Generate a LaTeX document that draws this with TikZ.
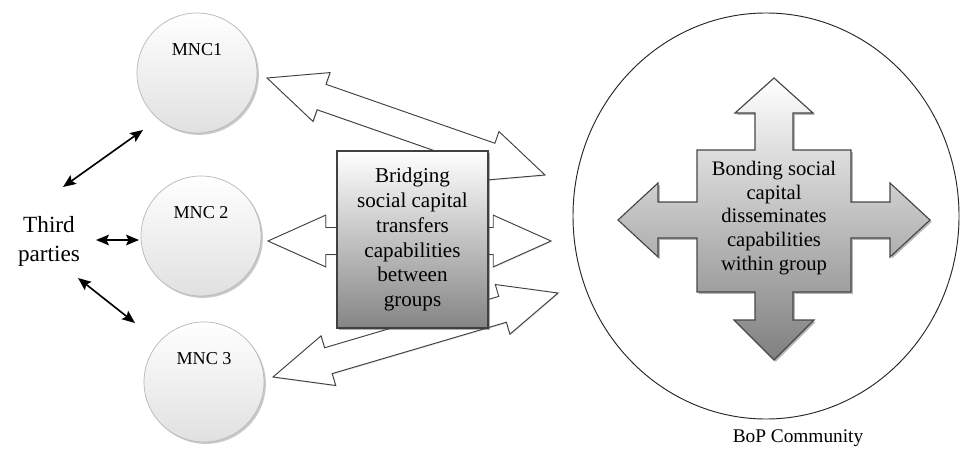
\documentclass[tikz,border=0pt]{standalone}
\usepackage{fontspec}
\setmainfont{Liberation Serif}
\newfontfamily\diagfont{Liberation Serif}
\usetikzlibrary{calc,shadows,shapes.geometric,arrows.meta}

% Hollow double-headed block arrow from coordinate #1 to coordinate #2
\newcommand\hollowdoublearrow[2]{%
  \path let \p1=($(#2)-(#1)$) in
    \pgfextra{\pgfmathsetmacro\arrang{atan2(\y1,\x1)}%
              \pgfmathsetmacro\arrlen{veclen(\x1,\y1)}%
              \xdef\arrang{\arrang}\xdef\arrlen{\arrlen}};
  \begin{scope}[shift={(#1)}, rotate=\arrang]
    \pgfmathsetmacro\arrb{\arrlen-49.3}
    \draw[hollowarrow] (0pt,0pt) -- (49.3pt,22.1pt) -- (49.3pt,11.5pt)
      -- (\arrb pt,11.5pt) -- (\arrb pt,22.1pt) -- (\arrlen pt,0pt)
      -- (\arrb pt,-22.1pt) -- (\arrb pt,-11.5pt) -- (49.3pt,-11.5pt)
      -- (49.3pt,-22.1pt) -- cycle;
  \end{scope}}

\begin{document}
\begin{tikzpicture}[x=0.03cm, y=-0.03cm,
  mnc/.style={circle, minimum size=3.6cm, inner sep=0pt,
    draw=black!28, line width=0.6pt, top color=white, bottom color=black!12,
    drop shadow={shadow xshift=1.6pt, shadow yshift=-1.6pt, opacity=0.35, fill=black!60},
    font=\diagfont\fontsize{15.5}{18}\selectfont, text height=11pt, text depth=40.8pt},
  partylabel/.style={align=center, inner sep=0pt, font=\diagfont\fontsize{19.8}{24.7}\selectfont},
  community/.style={ellipse, draw=black!85, line width=0.8pt, inner sep=0pt,
    minimum width=11.58cm, minimum height=12.18cm},
  hollowarrow/.style={draw=black!75, line width=0.8pt, fill=white, line join=miter,
    drop shadow={shadow xshift=0.8pt, shadow yshift=-0.8pt, opacity=0.25, fill=black!50}},
  bridgebox/.style={rectangle, minimum width=4.53cm, minimum height=5.31cm, inner sep=0pt,
    draw=black!75, line width=1pt, top color=white, bottom color=black!48,
    drop shadow={shadow xshift=1.8pt, shadow yshift=-1.8pt, opacity=0.45, fill=black!70},
    align=center, font=\diagfont\fontsize{18}{21.3}\selectfont},
  crossarrow/.style={draw=black!72, line width=1pt, line join=miter,
    top color=white, bottom color=black!50,
    drop shadow={shadow xshift=1.5pt, shadow yshift=-1.5pt, opacity=0.4, fill=black!70}},
  crosstext/.style={align=center, inner sep=0pt, font=\diagfont\fontsize{17.6}{20.4}\selectfont},
  caption/.style={inner sep=0pt, font=\diagfont\fontsize{16.5}{19}\selectfont},
  link/.style={draw=black, line width=1.4pt,
    {Stealth[length=11pt,width=9pt,inset=2pt]}-{Stealth[length=11pt,width=9pt,inset=2pt]}}
]
\useasboundingbox[fill=white] (0,0) rectangle (960,454);

% Multinationals and third parties
\node[mnc] (mnc1) at (197,73) {MNC1};
\node[mnc] (mnc2) at (201,236) {MNC 2};
\node[mnc] (mnc3) at (204,382) {MNC 3};
\node[partylabel] (tp) at (49,241.5) {Third\\parties};

% BoP community
\node[community] (bop) at (766,216) {};
\node[caption] (boplabel) at (798,438) {BoP Community};

% Ties between third parties and each MNC
\draw[link] ([shift={(14,-54.5)}]tp.center) -- ([shift={(-54,57)}]mnc1.center);
\draw[link] ([shift={(47,-1.5)}]tp.center) -- ([shift={(-62,4)}]mnc2.center);
\draw[link] ([shift={(29,36.5)}]tp.center) -- ([shift={(-69,-59)}]mnc3.center);

% End points of the bridging flows
\coordinate (u1) at ([shift={(70,5)}]mnc1.center);
\coordinate (u2) at ([shift={(-221,-41)}]bop.center);
\coordinate (m1) at ([shift={(67,5)}]mnc2.center);
\coordinate (m2) at ([shift={(-215,25)}]bop.center);
\coordinate (l1) at ([shift={(69,-5)}]mnc3.center);
\coordinate (l2) at ([shift={(-208,77)}]bop.center);

\hollowdoublearrow{u1}{u2}
\hollowdoublearrow{m1}{m2}
\hollowdoublearrow{l1}{l2}

% Bridging social capital box, on top of the flows
\node[bridgebox] (bridge) at (412.5,239.5)
  {Bridging\\social capital\\transfers\\capabilities\\between\\groups};

% Bonding social capital: four-way arrow inside the community
\draw[crossarrow] (774,78) -- (813,113) -- (793,113) -- (793,150) -- (851,150)
  -- (851,202) -- (890,202) -- (890,183) -- (930,220) -- (890,257) -- (890,238)
  -- (851,238) -- (851,292) -- (793,292) -- (793,320) -- (814,320) -- (774,360)
  -- (734,320) -- (755,320) -- (755,292) -- (697,292) -- (697,238) -- (658,238)
  -- (658,257) -- (618,220) -- (658,183) -- (658,202) -- (697,202) -- (697,150)
  -- (755,150) -- (755,113) -- (735,113) -- cycle;
\node[crosstext] (bond) at (774,218)
  {Bonding social\\capital\\disseminates\\capabilities\\within group};
\end{tikzpicture}
\end{document}
